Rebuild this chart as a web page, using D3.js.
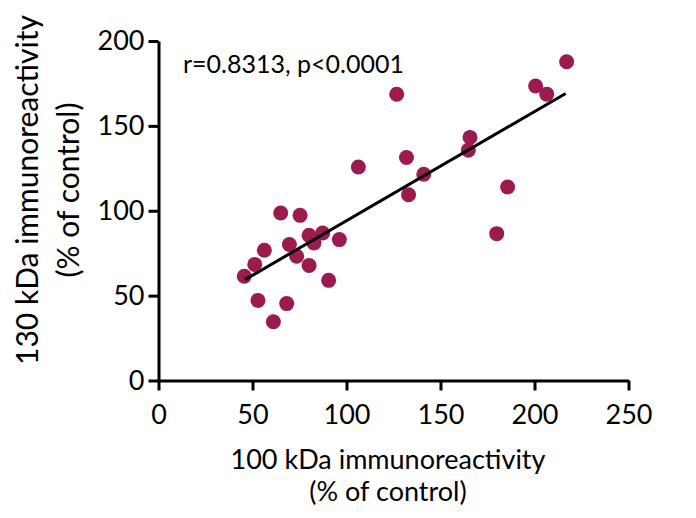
<!DOCTYPE html>
<html lang="en">
<head>
    <meta charset="UTF-8"/>
    <title>100 vs 130 kDa immunoreactivity</title>
    <script src="https://d3js.org/d3.v7.min.js"></script>
    <style>
        body { margin: 0; background: #fff; }
        svg text { font-family: Lato, "Open Sans", sans-serif; fill: #000; }
    </style>
</head>
<body>
    <div id="chart"></div>

    <script>
        // 100 kDa (x) and 130 kDa (y) immunoreactivity, % of control
        var xValues = [65.0, 75.3, 80.1, 87.3, 96.2, 69.6, 82.7, 56.3, 73.5, 51.2,
                       80.1, 45.6, 90.5, 52.9, 68.2, 61.1, 217.1, 200.6, 206.5, 126.7,
                       165.7, 164.8, 131.9, 141.1, 133.0, 185.7, 179.9, 106.3];
        var yValues = [98.7, 97.3, 85.5, 86.9, 83.0, 80.1, 81.0, 76.7, 73.2, 68.4,
                       67.8, 61.4, 59.0, 47.2, 45.3, 34.6, 187.8, 173.5, 168.7, 168.6,
                       143.2, 135.7, 131.4, 121.5, 109.4, 114.0, 86.5, 125.8];

        // regression line end points
        var fitX = [46.0, 216.6];
        var fitY = [59.4, 169.1];

        var xTicks = [0, 50, 100, 150, 200, 250];
        var yTicks = [0, 50, 100, 150, 200];

        var w = 696;
        var h = 518;

        var xScale = d3.scaleLinear()
                        .domain([0, 250])
                        .range([158.5, 628.5]);

        var yScale = d3.scaleLinear()
                        .domain([0, 200])
                        .range([380.5, 41]);

        var svg = d3.select("#chart")
                    .append("svg")
                    .attr("width", w)
                    .attr("height", h);

        // Axes
        var xAxis = d3.axisBottom(xScale)
                      .tickValues(xTicks)
                      .tickSize(10)
                      .tickSizeOuter(0)
                      .tickPadding(6);
        var gx = svg.append("g")
           .attr("transform", "translate(0," + yScale(0) + ")")
           .call(xAxis);

        var yAxis = d3.axisLeft(yScale)
                      .tickValues(yTicks)
                      .tickSize(10)
                      .tickSizeOuter(0)
                      .tickPadding(4);
        var gy = svg.append("g")
           .attr("transform", "translate(" + xScale(0) + ",0)")
           .call(yAxis);

        [gx, gy].forEach(function(g) {
            g.selectAll("path, line")
             .attr("stroke", "#000")
             .attr("stroke-width", 3);
            g.selectAll("text")
             .attr("font-family", "Lato, 'Open Sans', sans-serif")
             .attr("font-size", "27px")
             .attr("fill", "#000");
        });
        gx.selectAll("text").attr("dy", "1em");

        // Data points
        var points = xValues.map(function(x, i) { return [x, yValues[i]]; });

        svg.selectAll("circle")
            .data(points)
            .enter()
            .append("circle")
            .attr("cx", function(d) { return xScale(d[0]); })
            .attr("cy", function(d) { return yScale(d[1]); })
            .attr("r", 7.5)
            .attr("fill", "#9b1b4f");

        // Regression line
        svg.append("line")
           .attr("x1", xScale(fitX[0]))
           .attr("y1", yScale(fitY[0]))
           .attr("x2", xScale(fitX[1]))
           .attr("y2", yScale(fitY[1]))
           .attr("stroke", "#000")
           .attr("stroke-width", 3);

        // Correlation text
        svg.append("text")
           .attr("x", 183)
           .attr("y", 73)
           .attr("font-size", "25px")
           .text("r=0.8313, p<0.0001");

        // X-axis label
        var xLabel = svg.append("text")
           .attr("text-anchor", "middle")
           .attr("font-size", "27px");
        xLabel.append("tspan")
           .attr("x", 388)
           .attr("y", 469)
           .text("100 kDa immunoreactivity");
        xLabel.append("tspan")
           .attr("x", 388)
           .attr("y", 501)
           .text("(% of control)");

        // Y-axis label
        var yLabel = svg.append("text")
           .attr("transform", "rotate(-90)")
           .attr("text-anchor", "middle")
           .attr("font-size", "30px");
        yLabel.append("tspan")
           .attr("x", -190)
           .attr("y", 38)
           .text("130 kDa immunoreactivity");
        yLabel.append("tspan")
           .attr("x", -190)
           .attr("y", 79)
           .text("(% of control)");
    </script>
</body>
</html>
